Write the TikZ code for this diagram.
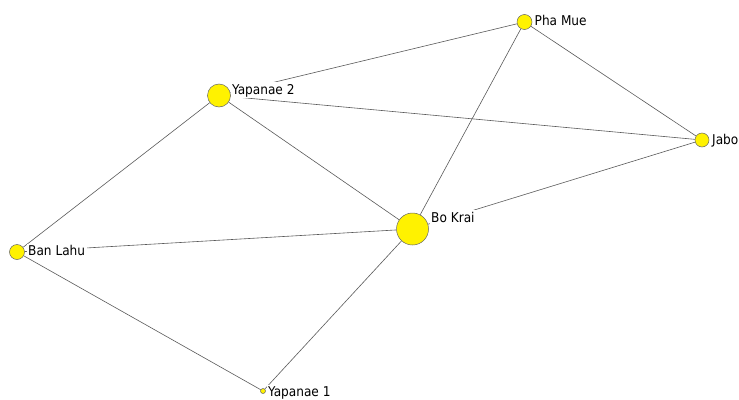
\documentclass[tikz,border=0pt]{standalone}
\usepackage{fontspec}
\setmainfont{DejaVu Sans Condensed}
\usetikzlibrary{backgrounds}
\begin{document}
\begin{tikzpicture}[x=1pt,y=-1pt,
  vert/.style={circle,draw=black!60,fill=yellow,line width=0.5pt,inner sep=0pt,minimum size=#1},
  lbl/.style={anchor=base west,fill=white,inner sep=1.5pt,font=\fontsize{13.5}{15}\selectfont,text=black},
  edge/.style={draw=black!65,line width=0.6pt}]
\useasboundingbox (0,0) rectangle (739,399);
\node[vert=15pt] (pm) at (524.5,22) {};
\node[vert=23pt] (y2) at (219,95.5) {};
\node[vert=32pt] (bk) at (412.5,229) {};
\node[vert=15pt] (bl) at (17,252) {};
\node[vert=14pt] (jb) at (702,140) {};
\node[vert=5pt] (y1) at (263,391) {};
\begin{scope}[on background layer]
\draw[edge] (y2) -- (pm);
\draw[edge] (pm) -- (jb);
\draw[edge] (pm) -- (bk);
\draw[edge] (y2) -- (jb);
\draw[edge] (y2) -- (bk);
\draw[edge] (y2) -- (bl);
\draw[edge] (jb) -- (bk);
\draw[edge] (bk) -- (bl);
\draw[edge] (bk) -- (y1);
\draw[edge] (bl) -- (y1);
\end{scope}
\node[lbl] (lpm) at (533,25) {Pha Mue};
\node[lbl] (ly2) at (230.5,94) {Yapanae 2};
\node[lbl] (lbk) at (429.5,222) {Bo Krai};
\node[lbl] (lbl) at (26.5,255.5) {Ban Lahu};
\node[lbl] (ljb) at (710.5,144.5) {Jabo};
\node[lbl] (ly1) at (266.5,396.5) {Yapanae 1};
\end{tikzpicture}
\end{document}
